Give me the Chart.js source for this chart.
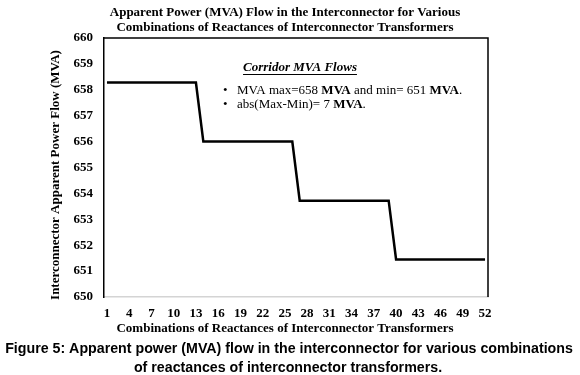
<!DOCTYPE html>
<html><head><meta charset="utf-8">
<script src="https://cdn.jsdelivr.net/npm/chart.js@4"></script>
<style>html,body{margin:0;padding:0;background:#fff}#wrap{width:580px;height:375px;position:relative}</style>
</head><body><div id="wrap"><canvas id="c" width="580" height="375"></canvas></div>
<script>
// ---- data ----
const categories = [1,2,3,4,5,6,7,8,9,10,11,12,13,14,15,16,17,18,19,20,21,22,23,24,25,26,
  27,28,29,30,31,32,33,34,35,36,37,38,39,40,41,42,43,44,45,46,47,48,49,50,51,52];
const mvaFlow = [
  658.28,658.28,658.28,658.28,658.28,658.28,658.28,658.28,658.28,658.28,658.28,658.28,658.28,
  656.0,656.0,656.0,656.0,656.0,656.0,656.0,656.0,656.0,656.0,656.0,656.0,656.0,
  653.72,653.72,653.72,653.72,653.72,653.72,653.72,653.72,653.72,653.72,653.72,653.72,653.72,
  651.45,651.45,651.45,651.45,651.45,651.45,651.45,651.45,651.45,651.45,651.45,651.45,651.45];
const xTickLabels = [1,4,7,10,13,16,19,22,25,28,31,34,37,40,43,46,49,52];
const yTickLabels = [650,651,652,653,654,655,656,657,658,659,660];
const titleLines = ['Apparent Power (MVA) Flow in the Interconnector for Various',
  'Combinations of Reactances of Interconnector Transformers'];
const xTitle = 'Combinations of Reactances of Interconnector Transformers';
const yTitle = 'Interconnector Apparent Power Flow (MVA)';
const noteTitle = 'Corridor MVA Flows';
const noteLines = [
  [['MVA max=658 ',false],['MVA',true],[' and min= 651 ',false],['MVA',true],['.',false]],
  [['abs(Max-Min)= 7 ',false],['MVA',true],['.',false]]
];
const captionLines = ['Figure 5: Apparent power (MVA) flow in the interconnector for various combinations',
  'of reactances of interconnector transformers.'];

const SERIF = '"Liberation Serif", "Times New Roman", serif';
const SANS = '"Liberation Sans", Arial, sans-serif';

const textPlugin = {
  id: 'texts',
  afterDraw(chart) {
    const ctx = chart.ctx, a = chart.chartArea;
    ctx.save();
    // frame top & right
    ctx.strokeStyle = '#000'; ctx.lineWidth = 1.5;
    ctx.beginPath();
    ctx.moveTo(a.left, a.top); ctx.lineTo(a.right, a.top); ctx.lineTo(a.right, a.bottom);
    ctx.stroke();
    ctx.fillStyle = '#000';
    ctx.textBaseline = 'middle';
    ctx.textAlign = 'center';
    ctx.font = 'bold 13px ' + SERIF;
    ctx.fillText(titleLines[0], 285, 13);
    ctx.fillText(titleLines[1], 285, 27.5);
    ctx.fillText(xTitle, 285, 329);
    // y title
    ctx.save();
    ctx.translate(56, 175);
    ctx.rotate(-Math.PI/2);
    ctx.fillText(yTitle, 0, 0);
    ctx.restore();
    // note
    ctx.font = 'italic bold 13px ' + SERIF;
    ctx.fillText(noteTitle, 300, 68);
    const w = ctx.measureText(noteTitle).width;
    ctx.lineWidth = 1;
    ctx.beginPath(); ctx.moveTo(300 - w/2, 74.5); ctx.lineTo(300 + w/2, 74.5); ctx.stroke();
    ctx.textAlign = 'left';
    noteLines.forEach((runs, i) => {
      const y = 91 + i*14;
      ctx.font = '13px ' + SERIF;
      ctx.fillText('\u2022', 223, y);
      let x = 237;
      runs.forEach(([t, b]) => {
        ctx.font = (b ? 'bold ' : '') + '13px ' + SERIF;
        ctx.fillText(t, x, y);
        x += ctx.measureText(t).width;
      });
    });
    // caption
    ctx.textAlign = 'center';
    let fs = 15;
    ctx.font = 'bold ' + fs + 'px ' + SANS;
    fs = fs * 568 / ctx.measureText(captionLines[0]).width;
    ctx.font = 'bold ' + fs.toFixed(2) + 'px ' + SANS;
    ctx.fillText(captionLines[0], 289, 349);
    ctx.fillText(captionLines[1], 288, 368);
    ctx.restore();
  }
};

new Chart(document.getElementById('c'), {
  type: 'line',
  data: {
    datasets: [{
      data: categories.map((c, i) => ({x: c, y: mvaFlow[i]})),
      borderColor: '#000', borderWidth: 2.5, pointRadius: 0, tension: 0, fill: false
    }]
  },
  options: {
    responsive: false, animation: false, devicePixelRatio: 1,
    layout: {padding: {left: 0, top: 38, right: 92, bottom: 38}},
    plugins: {legend: {display: false}, tooltip: {enabled: false}, title: {display: false}},
    scales: {
      x: {
        type: 'linear', min: 0.6, max: 52.4,
        grid: {display: false, drawTicks: false},
        border: {display: true, color: '#d4d4d4', width: 1.5},
        afterBuildTicks: s => { s.ticks = xTickLabels.map(v => ({value: v})); },
        afterFit: s => { s.height = 40; },
        ticks: {autoSkip: false, maxRotation: 0, padding: 9, color: '#000',
          font: {family: SERIF, size: 13, weight: 'bold'},
          callback: v => String(v)}
      },
      y: {
        min: 650, max: 660,
        grid: {display: false, drawTicks: false},
        border: {display: true, color: '#000', width: 1.5},
        afterBuildTicks: s => { s.ticks = yTickLabels.map(v => ({value: v})); },
        afterFit: s => { s.width = 104; },
        ticks: {padding: 11, color: '#000', font: {family: SERIF, size: 13, weight: 'bold'},
          callback: v => String(v)}
      }
    }
  },
  plugins: [textPlugin]
});
</script></body></html>
